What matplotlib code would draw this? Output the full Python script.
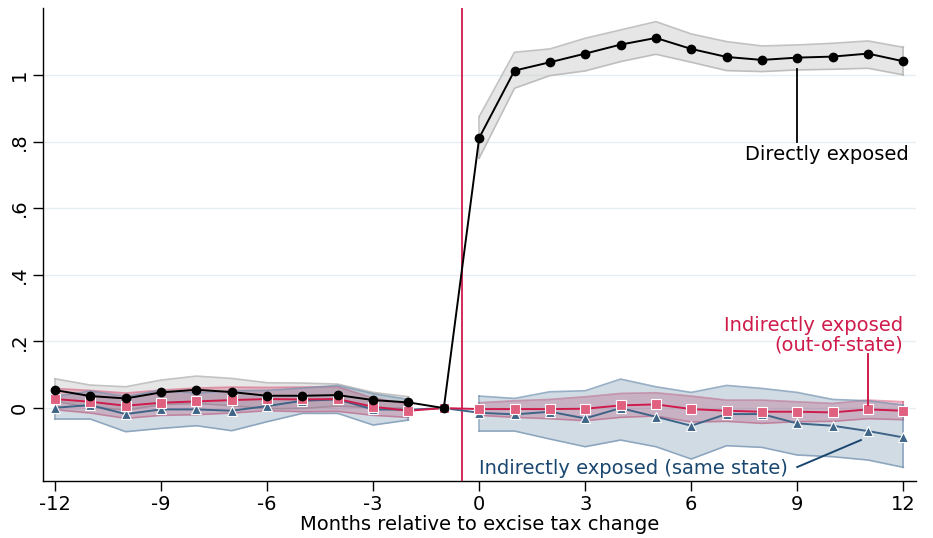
import matplotlib
matplotlib.use("Agg")
import matplotlib.pyplot as plt
import numpy as np

months = list(range(-12, 13))

# Directly exposed
direct = [0.054, 0.036, 0.029, 0.047, 0.055, 0.048, 0.037, 0.037, 0.039, 0.024, 0.017, 0.0,
          0.811, 1.013, 1.038, 1.064, 1.091, 1.111, 1.078, 1.054, 1.045, 1.052, 1.055, 1.064, 1.041]
direct_hi = [0.088, 0.069, 0.064, 0.084, 0.096, 0.089, 0.076, 0.075, 0.072, 0.047, 0.034, None,
             0.875, 1.068, 1.078, 1.110, 1.135, 1.160, 1.123, 1.100, 1.087, 1.090, 1.095, 1.102, 1.083]
direct_lo = [0.020, 0.003, -0.006, 0.010, 0.014, 0.007, -0.002, -0.001, 0.006, 0.001, 0.000, None,
             0.750, 0.960, 0.998, 1.012, 1.040, 1.062, 1.038, 1.013, 1.010, 1.015, 1.017, 1.020, 1.000]

# Indirectly exposed (out-of-state)
out_state = [0.027, 0.019, 0.007, 0.016, 0.020, 0.024, 0.027, 0.026, 0.027, 0.004, -0.008, 0.0,
             -0.003, -0.003, -0.003, -0.002, 0.008, 0.011, -0.003, -0.008, -0.011, -0.011, -0.013, -0.004, -0.008]
out_hi = [0.059, 0.053, 0.045, 0.054, 0.060, 0.063, 0.062, 0.063, 0.064, 0.030, 0.012, None,
          0.016, 0.022, 0.026, 0.034, 0.044, 0.046, 0.036, 0.024, 0.024, 0.019, 0.014, 0.024, 0.019]
out_lo = [-0.005, -0.015, -0.031, -0.022, -0.020, -0.015, -0.008, -0.011, -0.010, -0.022, -0.028, None,
          -0.022, -0.028, -0.032, -0.038, -0.028, -0.024, -0.042, -0.040, -0.046, -0.041, -0.040, -0.032, -0.035]

# Indirectly exposed (same state)
same_state = [0.001, 0.009, -0.018, -0.004, -0.004, -0.008, 0.006, 0.022, 0.026, -0.004, -0.005, 0.0,
              -0.014, -0.019, -0.011, -0.031, 0.000, -0.026, -0.053, -0.018, -0.018, -0.046, -0.053, -0.069, -0.088]
same_hi = [0.035, 0.051, 0.035, 0.053, 0.045, 0.052, 0.053, 0.060, 0.068, 0.043, 0.026, None,
           0.036, 0.029, 0.049, 0.052, 0.087, 0.064, 0.047, 0.068, 0.059, 0.047, 0.026, 0.022, 0.009]
same_lo = [-0.033, -0.033, -0.071, -0.061, -0.053, -0.068, -0.041, -0.016, -0.016, -0.051, -0.036, None,
           -0.069, -0.069, -0.093, -0.116, -0.096, -0.116, -0.153, -0.113, -0.118, -0.141, -0.146, -0.156, -0.178]

yticks = [0, 0.2, 0.4, 0.6, 0.8, 1.0]
ytick_labels = ["0", ".2", ".4", ".6", ".8", "1"]
xticks = [-12, -9, -6, -3, 0, 3, 6, 9, 12]
event_line = -0.5

RED = "#CF1B4B"
BLUE = "#3E6488"
NAVY = "#1A476F"
FS = 14

fig = plt.figure(figsize=(9.33, 5.38), dpi=100)
ax = fig.add_axes([43 / 933, 1 - 480.7 / 538, (915.7 - 43) / 933, (480.7 - 8.3) / 538])

m = np.array(months)


def band(hi, lo, face, edge, alpha, ealpha, z):
    hi = np.array([np.nan if v is None else v for v in hi])
    lo = np.array([np.nan if v is None else v for v in lo])
    for sel in (m <= -2, m >= 0):
        ax.fill_between(m[sel], lo[sel], hi[sel], color=face, alpha=alpha, lw=0, zorder=z)
        ax.plot(m[sel], hi[sel], color=edge, alpha=ealpha, lw=1.2, zorder=z)
        ax.plot(m[sel], lo[sel], color=edge, alpha=ealpha, lw=1.2, zorder=z)
        ax.plot([m[sel][0]] * 2, [lo[sel][0], hi[sel][0]], color=edge, alpha=ealpha, lw=1.2, zorder=z)
        ax.plot([m[sel][-1]] * 2, [lo[sel][-1], hi[sel][-1]], color=edge, alpha=ealpha, lw=1.2, zorder=z)


for yt in yticks:
    ax.axhline(yt, color="#e6eef2", lw=1.0, zorder=0)

band(direct_hi, direct_lo, "#c8c8c8", "#b4b4b4", 0.45, 0.8, 1)
band(out_hi, out_lo, RED, RED, 0.25, 0.4, 2)
band(same_hi, same_lo, "#5d7fa0", "#6f8fae", 0.28, 0.7, 3)

ax.axvline(event_line, color=RED, lw=1.3, zorder=4)

ax.plot(months, same_state, color=BLUE, lw=1.4, marker="^", ms=7.5,
        markerfacecolor=BLUE, markeredgecolor="white", markeredgewidth=0.8, zorder=5)
ax.plot(months, out_state, color=RED, lw=1.4, marker="s", ms=7,
        markerfacecolor="#E0607F", markeredgecolor="white", markeredgewidth=0.8, zorder=6)
ax.plot(months, direct, color="black", lw=1.4, marker="o", ms=6,
        markerfacecolor="black", markeredgecolor="black", zorder=7)

# annotations
ax.plot([9, 9], [1.018, 0.80], color="black", lw=1.3, zorder=8)
ax.text(12.15, 0.760, "Directly exposed", ha="right", va="center", fontsize=FS, color="black")

ax.plot([11, 11], [0.163, 0.008], color=RED, lw=1.4, zorder=8)
ax.text(12.0, 0.249, "Indirectly exposed", ha="right", va="center", fontsize=FS, color=RED)
ax.text(12.0, 0.189, "(out-of-state)", ha="right", va="center", fontsize=FS, color=RED)

ax.plot([9.0, 10.8], [-0.177, -0.096], color=NAVY, lw=1.4, zorder=8)
ax.text(0.0, -0.18, "Indirectly exposed (same state)", ha="left", va="center", fontsize=FS, color=NAVY)

ax.set_xlim(-12.34, 12.35)
ax.set_ylim(-0.218, 1.2)
ax.set_xticks(xticks)
ax.set_xticklabels([str(x) for x in xticks], fontsize=FS)
ax.set_yticks(yticks)
ax.set_yticklabels(ytick_labels, fontsize=FS, rotation=90, va="center")
ax.tick_params(axis="both", length=7, width=1, direction="out", pad=3)
ax.set_xlabel("Months relative to excise tax change", fontsize=FS, labelpad=1)

for s in ("top", "right"):
    ax.spines[s].set_visible(False)
for s in ("left", "bottom"):
    ax.spines[s].set_linewidth(1.0)

fig.savefig("out.png", dpi=100)
